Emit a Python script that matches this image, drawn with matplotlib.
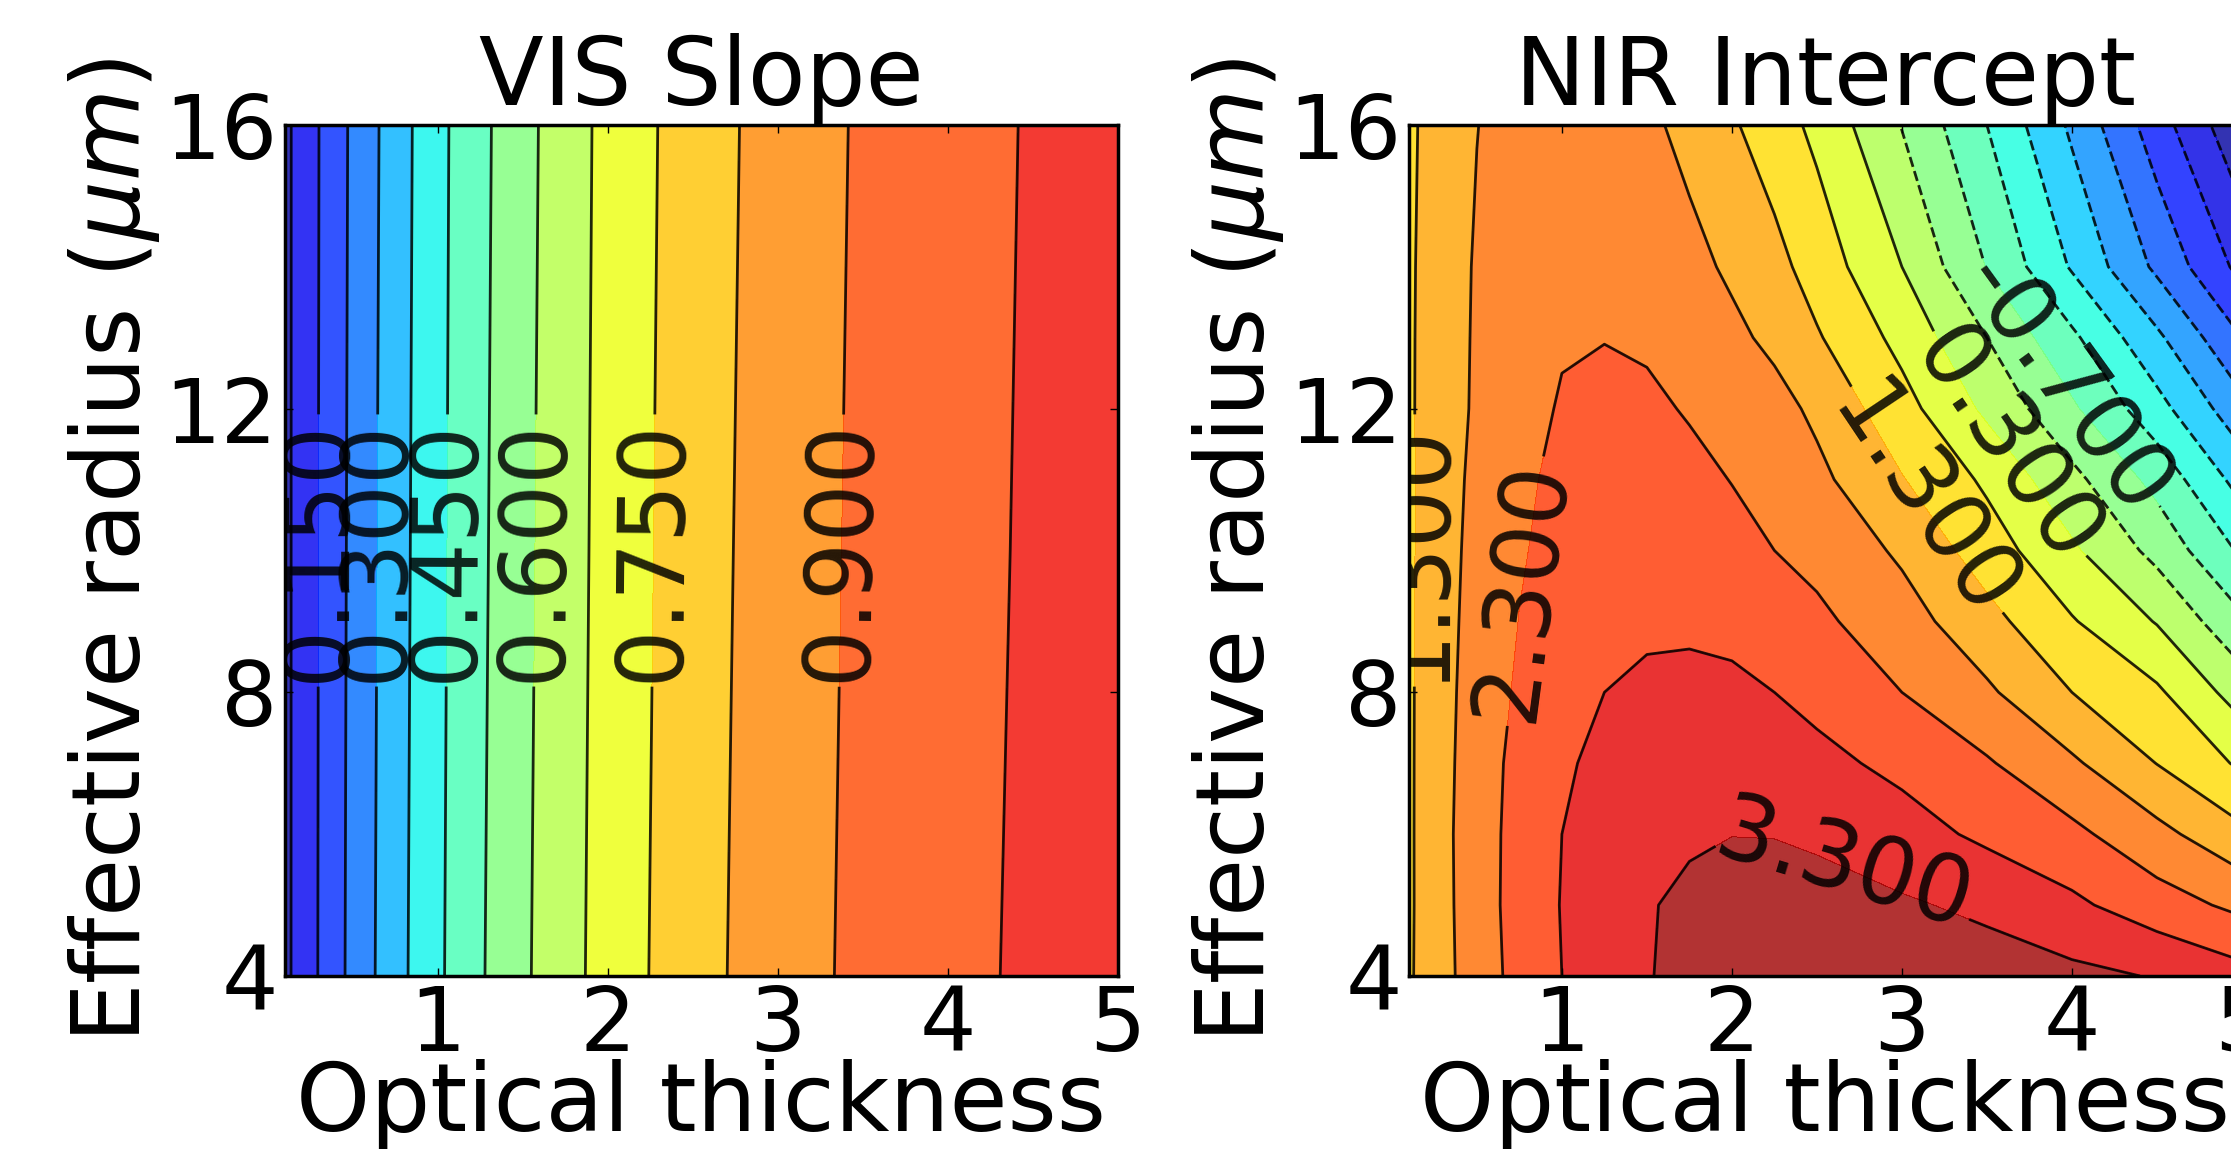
import numpy as np
import matplotlib
matplotlib.use("Agg")
import matplotlib.pyplot as plt

# grid: optical thickness (x) and effective radius (y)
vis_tau = [0.1, 0.25, 0.5, 0.75, 1.0, 1.25, 1.5, 2.0, 2.5, 3.0, 3.5, 4.0, 4.5, 5.0]
vis_reff = [4, 10, 16]
vis_slope = [
    [0.057, 0.129, 0.246, 0.348, 0.437, 0.517, 0.588, 0.706, 0.797, 0.866, 0.917, 0.954, 0.988, 1.015],
    [0.057, 0.128, 0.242, 0.343, 0.433, 0.511, 0.583, 0.701, 0.792, 0.861, 0.913, 0.950, 0.984, 1.011],
    [0.057, 0.127, 0.238, 0.338, 0.430, 0.506, 0.578, 0.697, 0.787, 0.856, 0.909, 0.946, 0.981, 1.008],
]

nir_tau = [0.1, 0.25, 0.5, 0.75, 1.0, 1.25, 1.5, 1.75, 2.0, 2.25, 2.5, 3.0, 3.5, 4.0, 4.5, 5.0]
nir_reff = [4, 5, 6, 7, 8, 9, 10, 11, 12, 13, 14, 16]
nir_icpt = [
    [1.24, 1.56, 2.05, 2.46, 2.80, 3.04, 3.28, 3.40, 3.49, 3.55, 3.59, 3.60, 3.53, 3.42, 3.27, 2.97],
    [1.23, 1.57, 2.07, 2.49, 2.82, 3.03, 3.27, 3.38, 3.43, 3.44, 3.42, 3.36, 3.20, 2.90, 2.52, 2.18],
    [1.23, 1.575, 2.08, 2.47, 2.80, 3.00, 3.15, 3.25, 3.295, 3.29, 3.25, 3.00, 2.70, 2.42, 1.95, 1.41],
    [1.23, 1.57, 2.05, 2.45, 2.73, 2.92, 3.02, 3.07, 3.07, 3.02, 2.93, 2.68, 2.35, 1.88, 1.29, 0.72],
    [1.23, 1.56, 2.02, 2.37, 2.62, 2.80, 2.88, 2.91, 2.88, 2.80, 2.66, 2.30, 1.88, 1.30, 0.88, 0.06],
    [1.23, 1.54, 1.99, 2.31, 2.54, 2.67, 2.73, 2.73, 2.70, 2.56, 2.40, 2.01, 1.47, 0.84, 0.27, -0.61],
    [1.23, 1.52, 1.96, 2.26, 2.45, 2.52, 2.53, 2.49, 2.42, 2.30, 2.16, 1.72, 1.05, 0.38, -0.35, -1.28],
    [1.23, 1.51, 1.92, 2.21, 2.41, 2.47, 2.46, 2.40, 2.29, 2.13, 1.92, 1.33, 0.71, -0.06, -0.86, -1.90],
    [1.24, 1.50, 1.87, 2.13, 2.34, 2.40, 2.37, 2.27, 2.13, 1.97, 1.70, 0.98, 0.20, -0.62, -1.52, -2.55],
    [1.24, 1.49, 1.86, 2.12, 2.26, 2.29, 2.25, 2.08, 1.91, 1.69, 1.35, 0.65, -0.20, -1.10, -2.10, -3.20],
    [1.24, 1.47, 1.85, 2.08, 2.18, 2.19, 2.10, 1.94, 1.72, 1.46, 1.08, 0.30, -0.72, -1.75, -2.80, -3.85],
    [1.22, 1.45, 1.79, 2.02, 2.12, 2.07, 1.90, 1.66, 1.36, 1.03, 0.68, -0.22, -1.20, -2.29, -3.47, -4.62],
]

vis_levels = np.arange(0, 1.13, 0.075)
nir_levels = np.arange(-4.7, 3.85, 0.5)

# where the inline labels sit (data coords)
vis_label_at = [(0.30, 10), (0.64, 10), (1.05, 10), (1.565, 10), (2.24, 10), (3.32, 10)]
nir_label_at = [(0.13, 10.0), (0.72, 9.45), (2.68, 5.66), (3.1, 10.64), (3.6, 11.45), (3.97, 12.33)]

plt.rcParams['font.family'] = 'DejaVu Sans'
plt.rcParams['mathtext.fontset'] = 'dejavusans'
plt.rcParams['xtick.direction'] = 'in'
plt.rcParams['ytick.direction'] = 'in'
plt.rcParams['xtick.top'] = True
plt.rcParams['ytick.right'] = True

fig = plt.figure(figsize=(22.31, 11.49), dpi=100)
ax1 = fig.add_axes([0.1276, 0.1506, 0.3734, 0.7406])
ax2 = fig.add_axes([0.6315, 0.1506, 0.3734, 0.7406])


def panel(ax, tau, reff, z, levels, first, lab_at, title):
    T, R = np.meshgrid(tau, reff)
    Z = np.array(z)
    ax.contourf(T, R, Z, levels, cmap='jet', alpha=0.8)
    # every other level carries a label
    plain = np.delete(levels, np.arange(first, len(levels), 2))
    labelled = levels[first::2]
    ax.contour(T, R, Z, plain, colors='k', linewidths=2.0, alpha=0.85)
    cs = ax.contour(T, R, Z, labelled, colors='k', linewidths=2.0, alpha=0.85)
    ax.clabel(cs, inline=True, fontsize=66, fmt='%1.3f', manual=lab_at)
    ax.set_xlim(0.1, 5)
    ax.set_ylim(4, 16)
    ax.set_xticks([1, 2, 3, 4, 5])
    ax.set_yticks([4, 8, 12, 16])
    ax.tick_params(labelsize=64, length=6, width=1, pad=5)
    for s in ax.spines.values():
        s.set_linewidth(2.5)
    ax.set_title(title, fontsize=68, pad=4)
    ax.set_xlabel('Optical thickness', fontsize=68, labelpad=-8)
    ax.set_ylabel(r'Effective radius ($\mu m$)', fontsize=68, labelpad=2)


panel(ax1, vis_tau, vis_reff, vis_slope, vis_levels, 2, vis_label_at, 'VIS Slope')
panel(ax2, nir_tau, nir_reff, nir_icpt, nir_levels, 8, nir_label_at, 'NIR Intercept')

fig.savefig('out.png', dpi=100)
